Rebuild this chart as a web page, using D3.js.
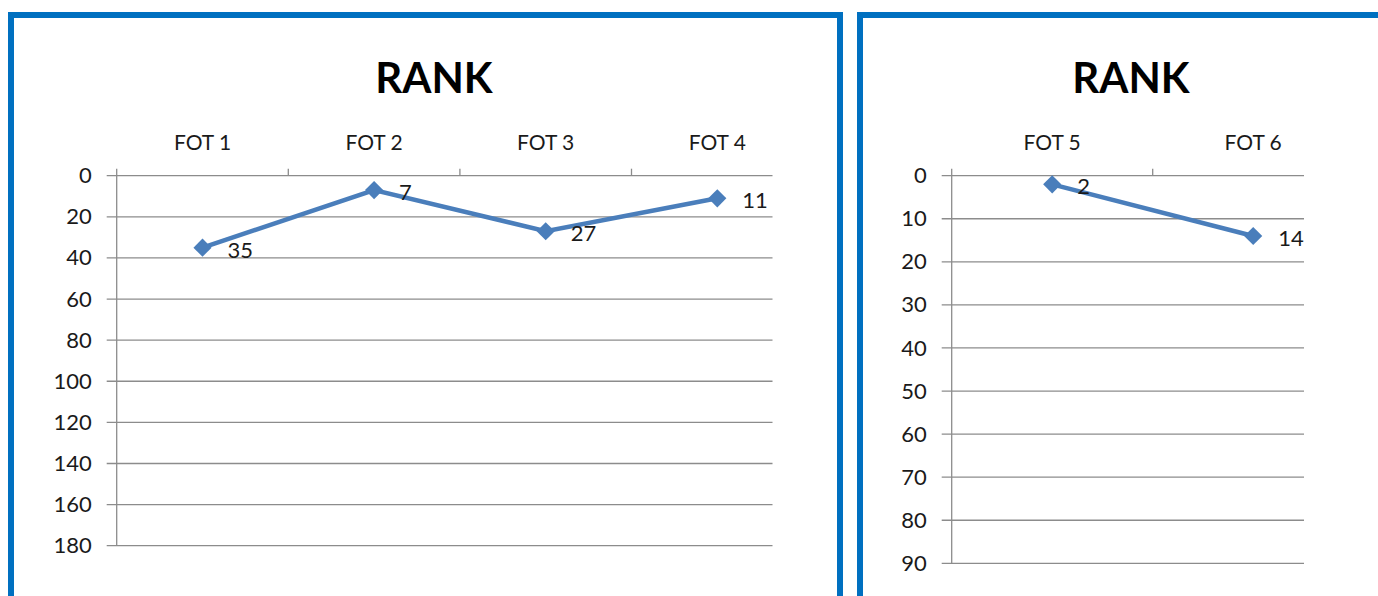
<!DOCTYPE html>
<html>
<head>
<meta charset="utf-8">
<script src="https://cdn.jsdelivr.net/npm/d3@7"></script>
<style>
  body { margin: 0; background: #fff; }
  svg { display: block; font-family: Lato, "Noto Sans", sans-serif; }
</style>
</head>
<body>
<div id="plot"></div>
<script>
// chart 1 data
var cats1 = ["FOT 1", "FOT 2", "FOT 3", "FOT 4"];
var rank1 = [35, 7, 27, 11];
var yTicks1 = [0, 20, 40, 60, 80, 100, 120, 140, 160, 180];

// chart 2 data
var cats2 = ["FOT 5", "FOT 6"];
var rank2 = [2, 14];
var yTicks2 = [0, 10, 20, 30, 40, 50, 60, 70, 80, 90];

var W = 1378, H = 596;
var blue = "#0070c0", lineColor = "#4a7ebb", gridColor = "#8c8c8c";

var svg = d3.select("#plot").append("svg")
  .attr("width", W)
  .attr("height", H);

// panel borders
svg.append("rect")
  .attr("x", 11).attr("y", 15)
  .attr("width", 829).attr("height", 700)
  .attr("fill", "none").attr("stroke", blue).attr("stroke-width", 6);
svg.append("rect")
  .attr("x", 860).attr("y", 15)
  .attr("width", 700).attr("height", 700)
  .attr("fill", "none").attr("stroke", blue).attr("stroke-width", 6);

function drawPanel(cfg) {
  var g = svg.append("g");

  var xScale = d3.scaleBand()
    .domain(cfg.cats)
    .range([cfg.left, cfg.left + cfg.band * cfg.cats.length])
    .padding(0);

  var yScale = d3.scaleLinear()
    .domain([0, d3.max(cfg.ticks)])
    .range([cfg.top, cfg.bottom]);

  // title
  g.append("text")
    .attr("x", cfg.titleX).attr("y", 93)
    .attr("text-anchor", "middle")
    .attr("font-size", 42).attr("font-weight", "bold")
    .attr("fill", "#000")
    .text("RANK");

  // gridlines
  g.selectAll(".grid").data(cfg.ticks).enter().append("line")
    .attr("class", "grid")
    .attr("x1", cfg.left - 10).attr("x2", cfg.gridEnd)
    .attr("y1", function(d) { return yScale(d); })
    .attr("y2", function(d) { return yScale(d); })
    .attr("stroke", gridColor).attr("stroke-width", 1.3);

  // y axis labels
  var yAxis = d3.axisLeft(yScale).tickValues(cfg.ticks).tickSize(0).tickPadding(25);
  var ya = g.append("g")
    .attr("transform", "translate(" + cfg.left + ",0)")
    .call(yAxis)
    .attr("font-size", 22)
    .attr("font-family", "Lato, 'Noto Sans', sans-serif");
  ya.select(".domain").remove();
  ya.selectAll("text")
    .style("font-size", "22px")
    .attr("fill", "#1a1a1a");

  // vertical axis line
  g.append("line")
    .attr("x1", cfg.left).attr("x2", cfg.left)
    .attr("y1", yScale(0) - 7).attr("y2", yScale(d3.max(cfg.ticks)))
    .attr("stroke", gridColor).attr("stroke-width", 1.3);

  // category boundary ticks on top axis
  var bounds = cfg.cats.map(function(c) { return xScale(c); }).slice(1)
    .filter(function(b) { return b < cfg.gridEnd; });
  g.selectAll(".ctick").data(bounds).enter().append("line")
    .attr("x1", function(d) { return d; }).attr("x2", function(d) { return d; })
    .attr("y1", yScale(0) - 7).attr("y2", yScale(0))
    .attr("stroke", gridColor).attr("stroke-width", 1.3);

  // category labels
  g.selectAll(".cat").data(cfg.cats).enter().append("text")
    .attr("x", function(d) { return xScale(d) + xScale.bandwidth() / 2; })
    .attr("y", 150)
    .attr("text-anchor", "middle")
    .attr("font-size", 21).attr("fill", "#1a1a1a")
    .text(function(d) { return d; });

  var pts = cfg.cats.map(function(c, i) { return { c: c, v: cfg.values[i] }; });

  var plotLine = d3.line()
    .x(function(d) { return xScale(d.c) + xScale.bandwidth() / 2; })
    .y(function(d) { return yScale(d.v); });

  g.append("path")
    .datum(pts)
    .attr("d", plotLine)
    .attr("fill", "none")
    .attr("stroke", lineColor)
    .attr("stroke-width", 4.5);

  var diamond = d3.symbol().type(d3.symbolDiamond2).size(210);
  g.selectAll(".pt").data(pts).enter().append("path")
    .attr("d", diamond)
    .attr("transform", function(d) {
      return "translate(" + (xScale(d.c) + xScale.bandwidth() / 2) + "," + yScale(d.v) + ")";
    })
    .attr("fill", lineColor);

  g.selectAll(".lbl").data(pts).enter().append("text")
    .attr("x", function(d) { return xScale(d.c) + xScale.bandwidth() / 2 + 25; })
    .attr("y", function(d) { return yScale(d.v) + 10; })
    .attr("font-size", 22).attr("fill", "#1a1a1a")
    .text(function(d) { return d.v; });
}

drawPanel({
  cats: cats1, values: rank1, ticks: yTicks1,
  left: 116.7, band: 171.6, gridEnd: 772.5,
  top: 175.7, bottom: 545.7, titleX: 434
});

drawPanel({
  cats: cats2, values: rank2, ticks: yTicks2,
  left: 951.7, band: 201, gridEnd: 1304,
  top: 175.7, bottom: 563.3, titleX: 1131
});
</script>
</body>
</html>
